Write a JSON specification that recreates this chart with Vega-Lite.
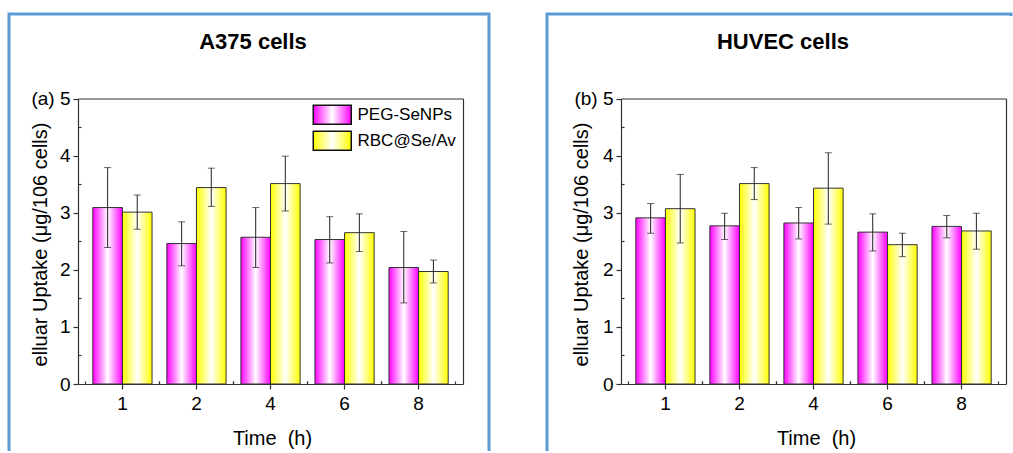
{
  "$schema": "https://vega.github.io/schema/vega-lite/v6.json",
  "padding": {"left": 7, "top": 12, "right": 0, "bottom": 0},
  "background": "white",
  "spacing": 58,
  "bounds": "flush",
  "config": {
    "font": "Liberation Sans",
    "axis": {"grid": false, "labelFont": "Liberation Sans", "titleFont": "Liberation Sans", "labelColor": "#000", "titleColor": "#000", "tickColor": "#333", "domainColor": "#333", "domainWidth": 1.2, "tickWidth": 1.2, "labelFontSize": 19, "titleFontSize": 20, "titleFontWeight": "normal"},
    "legend": {"labelFont": "Liberation Sans", "labelFontSize": 17, "labelColor": "#000"},
    "title": {"font": "Liberation Sans", "fontSize": 22, "fontWeight": "bold", "color": "#000", "anchor": "middle", "frame": "group", "offset": -40, "baseline": "alphabetic", "dx": 4}
  },
  "hconcat": [
    {
      "width": 480,
      "height": 437,
      "view": {"stroke": "#5b9bd5", "strokeWidth": 3, "strokeDash": [917, 480, 445]},
      "title": {"text": "A375 cells"},
      "data": {"values": [
        {"time": "1", "series": "PEG-SeNPs", "value": 3.09, "lo": 2.39, "hi": 3.79},
        {"time": "1", "series": "RBC@Se/Av", "value": 3.01, "lo": 2.71, "hi": 3.31},
        {"time": "2", "series": "PEG-SeNPs", "value": 2.46, "lo": 2.07, "hi": 2.84},
        {"time": "2", "series": "RBC@Se/Av", "value": 3.44, "lo": 3.11, "hi": 3.78},
        {"time": "4", "series": "PEG-SeNPs", "value": 2.57, "lo": 2.04, "hi": 3.09},
        {"time": "4", "series": "RBC@Se/Av", "value": 3.51, "lo": 3.03, "hi": 3.99},
        {"time": "6", "series": "PEG-SeNPs", "value": 2.53, "lo": 2.12, "hi": 2.93},
        {"time": "6", "series": "RBC@Se/Av", "value": 2.65, "lo": 2.32, "hi": 2.98},
        {"time": "8", "series": "PEG-SeNPs", "value": 2.04, "lo": 1.42, "hi": 2.67},
        {"time": "8", "series": "RBC@Se/Av", "value": 1.97, "lo": 1.77, "hi": 2.17}
      ]},
      "layer": [
        {
          "mark": {"type": "bar", "stroke": "#333", "strokeWidth": 1},
          "encoding": {
            "x": {"field": "time", "type": "ordinal", "sort": ["1", "2", "4", "6", "8"],
                  "scale": {"range": [69, 454], "paddingInner": 0.2, "paddingOuter": 0.2},
                  "axis": {"orient": "bottom", "offset": -67, "labelAngle": 0, "tickSize": 5, "labelPadding": 5, "labelFontSize": 19, "titleFontSize": 20, "title": "Time\u00a0\u00a0(h)", "titleX": 263, "titleY": 54, "titleBaseline": "middle"}},
            "xOffset": {"field": "series", "type": "nominal", "sort": ["PEG-SeNPs", "RBC@Se/Av"], "scale": {"paddingInner": 0, "paddingOuter": 0}},
            "y": {"field": "value", "type": "quantitative",
                  "scale": {"domain": [0, 5], "range": [370, 84.5], "nice": false},
                  "axis": {"orient": "left", "offset": -69, "values": [0, 1, 2, 3, 4, 5], "tickSize": 5, "labelPadding": 3, "labelFontSize": 19, "titleFontSize": 20, "labelExpr": "datum.value == 5 ? '(a) 5' : datum.label", "title": "elluar Uptake (μg/106 cells)", "titleX": -38, "titleY": 230, "titleAngle": -90, "titleAlign": "center", "titleBaseline": "middle"}},
            "fill": {"field": "series", "type": "nominal", "sort": ["PEG-SeNPs", "RBC@Se/Av"],
                     "scale": {"range": [
                       {"expr": "{gradient: 'linear', x1: 0, y1: 0, x2: 1, y2: 0, stops: [{offset: 0, color: '#ff00ff'}, {offset: 0.5, color: '#ffffff'}, {offset: 1, color: '#ff00ff'}]}"},
                       {"expr": "{gradient: 'linear', x1: 0, y1: 0, x2: 1, y2: 0, stops: [{offset: 0, color: '#ffff00'}, {offset: 0.5, color: '#ffffff'}, {offset: 1, color: '#ffff00'}]}"}
                     ]},
                     "legend": {"orient": "none", "legendX": 312.75, "legendY": 90.25, "title": null, "symbolType": "M-2,-1H2V1H-2Z", "symbolSize": 361, "symbolStrokeColor": "#111", "symbolStrokeWidth": 1.5, "labelOffset": 14.75, "labelFontSize": 17, "rowPadding": 1, "padding": 0}}
          }
        },
        {
          "mark": {"type": "rule", "color": "#222", "strokeWidth": 1},
          "encoding": {
            "x": {"field": "time", "type": "ordinal", "sort": ["1", "2", "4", "6", "8"],
                  "axis": {"orient": "top", "offset": -84.5, "labels": false, "ticks": false, "title": null}},
            "xOffset": {"field": "series", "type": "nominal", "sort": ["PEG-SeNPs", "RBC@Se/Av"]},
            "y": {"field": "lo", "type": "quantitative",
                  "axis": {"orient": "right", "offset": -26, "labels": false, "ticks": false, "title": null}},
            "y2": {"field": "hi"}
          }
        },
        {
          "mark": {"type": "tick", "color": "#222", "size": 7, "thickness": 1},
          "encoding": {
            "x": {"field": "time", "type": "ordinal", "sort": ["1", "2", "4", "6", "8"],
                  "axis": {"orient": "bottom", "offset": -67, "labels": false, "domain": false, "tickSize": -3, "bandPosition": -0.125, "title": null}},
            "xOffset": {"field": "series", "type": "nominal", "sort": ["PEG-SeNPs", "RBC@Se/Av"]},
            "y": {"field": "hi", "type": "quantitative",
                  "axis": {"orient": "left", "offset": -69, "values": [0.5, 1.5, 2.5, 3.5, 4.5], "labels": false, "domain": false, "tickSize": -3, "title": null}}
          }
        },
        {
          "mark": {"type": "tick", "color": "#222", "size": 7, "thickness": 1},
          "encoding": {
            "x": {"field": "time", "type": "ordinal", "sort": ["1", "2", "4", "6", "8"],
                  "axis": {"orient": "bottom", "offset": -67, "labels": false, "domain": false, "tickSize": -3, "bandPosition": 1.125, "title": null}},
            "xOffset": {"field": "series", "type": "nominal", "sort": ["PEG-SeNPs", "RBC@Se/Av"]},
            "y": {"field": "lo", "type": "quantitative", "axis": null}
          }
        }
      ],
      "resolve": {"axis": {"x": "independent", "y": "independent"}}
    },
    {
      "width": 464,
      "height": 437,
      "view": {"stroke": "#5b9bd5", "strokeWidth": 3, "strokeDash": [466, 899, 445]},
      "title": {"text": "HUVEC cells"},
      "data": {"values": [
        {"time": "1", "series": "PEG-SeNPs", "value": 2.91, "lo": 2.64, "hi": 3.16},
        {"time": "1", "series": "RBC@Se/Av", "value": 3.07, "lo": 2.47, "hi": 3.67},
        {"time": "2", "series": "PEG-SeNPs", "value": 2.77, "lo": 2.53, "hi": 2.99},
        {"time": "2", "series": "RBC@Se/Av", "value": 3.51, "lo": 3.23, "hi": 3.79},
        {"time": "4", "series": "PEG-SeNPs", "value": 2.82, "lo": 2.54, "hi": 3.09},
        {"time": "4", "series": "RBC@Se/Av", "value": 3.43, "lo": 2.80, "hi": 4.05},
        {"time": "6", "series": "PEG-SeNPs", "value": 2.66, "lo": 2.33, "hi": 2.98},
        {"time": "6", "series": "RBC@Se/Av", "value": 2.44, "lo": 2.23, "hi": 2.64},
        {"time": "8", "series": "PEG-SeNPs", "value": 2.76, "lo": 2.56, "hi": 2.95},
        {"time": "8", "series": "RBC@Se/Av", "value": 2.68, "lo": 2.36, "hi": 2.99}
      ]},
      "layer": [
        {
          "mark": {"type": "bar", "stroke": "#333", "strokeWidth": 1},
          "encoding": {
            "x": {"field": "time", "type": "ordinal", "sort": ["1", "2", "4", "6", "8"],
                  "scale": {"range": [74, 459], "paddingInner": 0.2, "paddingOuter": 0.2},
                  "axis": {"orient": "bottom", "offset": -67, "labelAngle": 0, "tickSize": 5, "labelPadding": 5, "labelFontSize": 19, "titleFontSize": 20, "title": "Time\u00a0\u00a0(h)", "titleX": 269, "titleY": 54, "titleBaseline": "middle"}},
            "xOffset": {"field": "series", "type": "nominal", "sort": ["PEG-SeNPs", "RBC@Se/Av"], "scale": {"paddingInner": 0, "paddingOuter": 0}},
            "y": {"field": "value", "type": "quantitative",
                  "scale": {"domain": [0, 5], "range": [370, 84.5], "nice": false},
                  "axis": {"orient": "left", "offset": -74, "values": [0, 1, 2, 3, 4, 5], "tickSize": 5, "labelPadding": 3, "labelFontSize": 19, "titleFontSize": 20, "labelExpr": "datum.value == 5 ? '(b) 5' : datum.label", "title": "elluar Uptake (μg/106 cells)", "titleX": -40, "titleY": 230, "titleAngle": -90, "titleAlign": "center", "titleBaseline": "middle"}},
            "fill": {"field": "series", "type": "nominal", "sort": ["PEG-SeNPs", "RBC@Se/Av"],
                     "scale": {"range": [
                       {"expr": "{gradient: 'linear', x1: 0, y1: 0, x2: 1, y2: 0, stops: [{offset: 0, color: '#ff00ff'}, {offset: 0.5, color: '#ffffff'}, {offset: 1, color: '#ff00ff'}]}"},
                       {"expr": "{gradient: 'linear', x1: 0, y1: 0, x2: 1, y2: 0, stops: [{offset: 0, color: '#ffff00'}, {offset: 0.5, color: '#ffffff'}, {offset: 1, color: '#ffff00'}]}"}
                     ]},
                     "legend": {"orient": "none", "legendX": 319, "legendY": 90.25, "title": null, "symbolType": "M-2,-1H2V1H-2Z", "symbolSize": 361, "symbolStrokeColor": "#111", "symbolStrokeWidth": 1.5, "labelOffset": 14.75, "labelFontSize": 17, "rowPadding": 1, "padding": 0}}
          }
        },
        {
          "mark": {"type": "rule", "color": "#222", "strokeWidth": 1},
          "encoding": {
            "x": {"field": "time", "type": "ordinal", "sort": ["1", "2", "4", "6", "8"],
                  "axis": {"orient": "top", "offset": -84.5, "labels": false, "ticks": false, "title": null}},
            "xOffset": {"field": "series", "type": "nominal", "sort": ["PEG-SeNPs", "RBC@Se/Av"]},
            "y": {"field": "lo", "type": "quantitative",
                  "axis": {"orient": "right", "offset": -5, "labels": false, "ticks": false, "title": null}},
            "y2": {"field": "hi"}
          }
        },
        {
          "mark": {"type": "tick", "color": "#222", "size": 7, "thickness": 1},
          "encoding": {
            "x": {"field": "time", "type": "ordinal", "sort": ["1", "2", "4", "6", "8"],
                  "axis": {"orient": "bottom", "offset": -67, "labels": false, "domain": false, "tickSize": -3, "bandPosition": -0.125, "title": null}},
            "xOffset": {"field": "series", "type": "nominal", "sort": ["PEG-SeNPs", "RBC@Se/Av"]},
            "y": {"field": "hi", "type": "quantitative",
                  "axis": {"orient": "left", "offset": -74, "values": [0.5, 1.5, 2.5, 3.5, 4.5], "labels": false, "domain": false, "tickSize": -3, "title": null}}
          }
        },
        {
          "mark": {"type": "tick", "color": "#222", "size": 7, "thickness": 1},
          "encoding": {
            "x": {"field": "time", "type": "ordinal", "sort": ["1", "2", "4", "6", "8"],
                  "axis": {"orient": "bottom", "offset": -67, "labels": false, "domain": false, "tickSize": -3, "bandPosition": 1.125, "title": null}},
            "xOffset": {"field": "series", "type": "nominal", "sort": ["PEG-SeNPs", "RBC@Se/Av"]},
            "y": {"field": "lo", "type": "quantitative", "axis": null}
          }
        }
      ],
      "resolve": {"axis": {"x": "independent", "y": "independent"}}
    }
  ]
}
